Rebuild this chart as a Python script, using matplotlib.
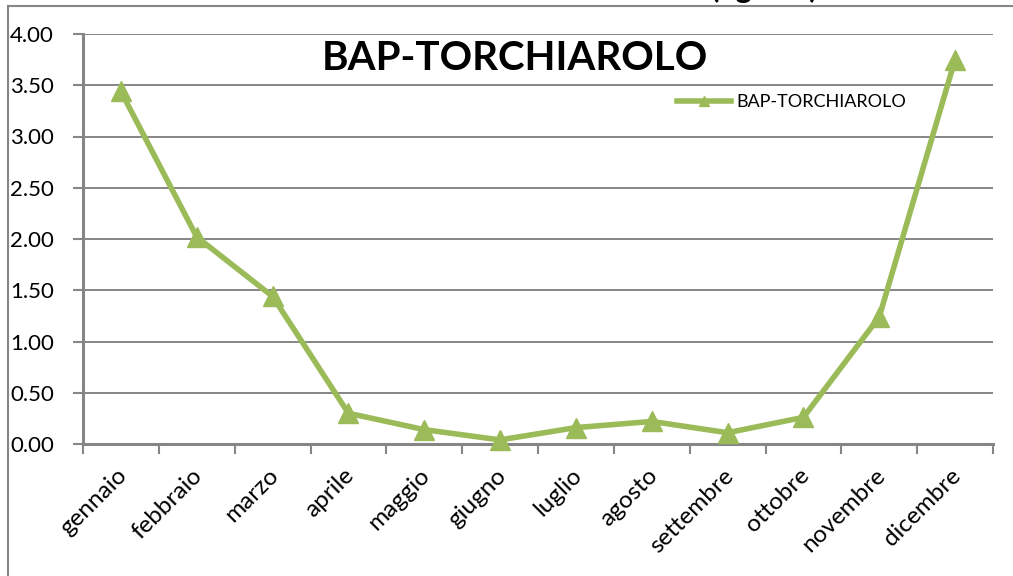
import matplotlib
matplotlib.use("Agg")
import matplotlib.pyplot as plt
from matplotlib.lines import Line2D
from matplotlib.transforms import ScaledTranslation
import numpy as np

# dati mensili BaP - Torchiarolo
mesi = ["gennaio", "febbraio", "marzo", "aprile", "maggio", "giugno",
        "luglio", "agosto", "settembre", "ottobre", "novembre", "dicembre"]
valori = [3.44, 2.02, 1.44, 0.30, 0.14, 0.04, 0.16, 0.22, 0.11, 0.26, 1.24, 3.75]
y_ticks = [0.0, 0.5, 1.0, 1.5, 2.0, 2.5, 3.0, 3.5, 4.0]

plt.rcParams['font.family'] = ['Lato', 'DejaVu Sans']

fig = plt.figure(figsize=(10.13, 5.76), dpi=100)
ax = fig.add_axes([83/1013, 1 - 444/576, 910/1013, 410/576])

grigio = "#868686"
verde = "#9BBB59"

x = np.arange(len(mesi))
ax.plot(x, valori, color=verde, lw=4, marker="^", markersize=15,
        label="BAP-TORCHIAROLO", zorder=3, clip_on=False)

ax.set_xlim(-0.5, len(mesi) - 0.5)
ax.set_ylim(0, 4)
ax.set_yticks(y_ticks)
ax.set_yticklabels([f"{v:.2f}" for v in y_ticks], fontsize=16)
ax.yaxis.grid(True, color=grigio, lw=1.4)
ax.set_axisbelow(True)

# tick sulle separazioni delle categorie, etichette al centro
ax.set_xticks(np.arange(-0.5, len(mesi)), minor=False)
ax.set_xticklabels([])
ax.set_xticks(x, minor=True)
ax.set_xticklabels(mesi, minor=True, rotation=45, ha="right",
                   rotation_mode="anchor", fontsize=17.5)
ax.tick_params(axis="x", which="minor", length=0, pad=15)
ax.tick_params(axis="x", which="major", length=7, width=1.5, color=grigio)
ax.tick_params(axis="y", length=7, width=1.5, color=grigio, pad=14)
sposta = ScaledTranslation(-5/100, 0, fig.dpi_scale_trans)
for lab in ax.get_xticklabels(minor=True):
    lab.set_transform(lab.get_transform() + sposta)

for s in ["top", "right"]:
    ax.spines[s].set_visible(False)
ax.spines["left"].set_color(grigio)
ax.spines["left"].set_linewidth(2.2)
ax.spines["bottom"].set_color(grigio)
ax.spines["bottom"].set_linewidth(2.2)

fig.text(515/1013, 1 - 58/576, "BAP-TORCHIAROLO", fontsize=29,
         fontweight="bold", ha="center", va="center")
fig.text(765/1013, 1 + 2/576, "(ng/m3)", fontsize=22, fontweight="bold",
         ha="center", va="baseline")

ax.legend(loc="center left", bbox_to_anchor=(661/1013, 1 - 102/576),
          bbox_transform=fig.transFigure, frameon=False, fontsize=13,
          handlelength=3.0, handletextpad=0.3, markerscale=0.5)

# bordo esterno del grafico
fig.add_artist(Line2D([8/1013, 1], [1 - 6/576, 1 - 6/576], color=grigio, lw=1.5))
fig.add_artist(Line2D([8/1013, 8/1013], [0, 1 - 6/576], color=grigio, lw=1.5))

fig.savefig("out.png", dpi=100)
